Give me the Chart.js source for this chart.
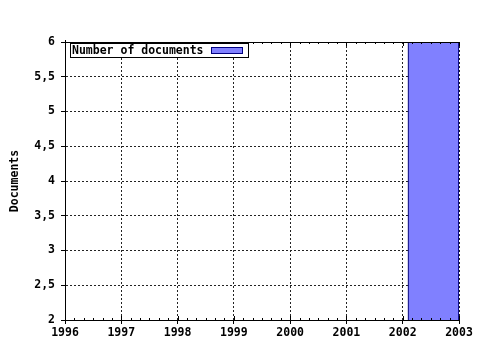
<!DOCTYPE html>
<html><head><meta charset="utf-8">
<script src="https://cdn.jsdelivr.net/npm/chart.js@4"></script>
<style>html,body{margin:0;padding:0;background:#fff}#w{width:480px;height:350px}</style>
</head><body><div id="w"><canvas id="c" width="480" height="350"></canvas></div>
<script>
const seriesLabel = "Number of documents";
const barStartYear = [2002.1];
const barEndYear = [2003];
const documents = [6];
const xMin = 1996, xMax = 2003;
const yMin = 2, yMax = 6;
const yTitle = "Documents";

const FONT = "'DejaVu Sans Mono', monospace";
const pts = [];
for (let i = 0; i < documents.length; i++) {
  pts.push({x: barStartYear[i], y: yMin}, {x: barStartYear[i], y: documents[i]},
           {x: barEndYear[i], y: documents[i]}, {x: barEndYear[i], y: yMin});
}

const framePlugin = {
  id: 'frame',
  afterDatasetsDraw(chart) {
    const {ctx, chartArea: a, scales: {x}} = chart;
    ctx.save();
    ctx.strokeStyle = '#000'; ctx.lineWidth = 1;
    ctx.setLineDash([]);
    ctx.beginPath();
    ctx.moveTo(a.left, a.top + 0.5); ctx.lineTo(a.right, a.top + 0.5);
    ctx.moveTo(a.left + 0.5, a.top - 2); ctx.lineTo(a.left + 0.5, a.bottom);
    ctx.moveTo(a.left, a.bottom + 0.5); ctx.lineTo(a.right, a.bottom + 0.5);
    for (let v = xMin; v <= xMax; v += 1) {
      const px = Math.round(x.getPixelForValue(v)) + 0.5;
      ctx.moveTo(px, a.top); ctx.lineTo(px, a.top + 4);
      ctx.moveTo(px, a.bottom); ctx.lineTo(px, a.bottom - 4);
    }
    for (let v = xMin; v < xMax; v += 1/6) {
      const px = Math.round(x.getPixelForValue(v)) + 0.5;
      ctx.moveTo(px, a.top); ctx.lineTo(px, a.top + 2);
      ctx.moveTo(px, a.bottom); ctx.lineTo(px, a.bottom - 2);
    }
    ctx.stroke();
    // legend
    const ds = chart.data.datasets[0];
    ctx.fillStyle = '#fff';
    ctx.fillRect(71, 43, 177, 14);
    ctx.strokeRect(70.5, 43.5, 178, 14);
    ctx.fillStyle = '#000';
    ctx.font = "bold 11.5px " + FONT;
    ctx.textBaseline = 'middle';
    ctx.fillText(ds.label, 72, 51);
    ctx.fillStyle = ds.backgroundColor;
    ctx.fillRect(211, 47, 32, 7);
    ctx.strokeStyle = ds.borderColor;
    ctx.strokeRect(211.5, 47.5, 31, 6);
    ctx.restore();
  }
};

new Chart(document.getElementById('c'), {
  type: 'scatter',
  data: {datasets: [{
    label: seriesLabel,
    data: pts,
    showLine: true,
    fill: 'start',
    backgroundColor: '#8080ff',
    borderColor: '#000080',
    borderWidth: 1,
    pointRadius: 0,
    tension: 0
  }]},
  options: {
    responsive: false,
    animation: false,
    layout: {padding: {left: 0, right: 21, top: 42, bottom: 0}},
    plugins: {legend: {display: false}, tooltip: {enabled: false}},
    scales: {
      x: {
        type: 'linear', min: xMin, max: xMax,
        afterFit(s) { s.height = 30; },
        ticks: {stepSize: 1, color: '#000', font: {family: FONT, size: 11.5, weight: 'bold'},
                padding: 2, maxRotation: 0, callback: v => String(v)},
        grid: {color: '#222', lineWidth: 1, tickLength: 4, tickColor: '#000', tickBorderDash: [], drawTicks: true},
        border: {display: true, color: '#000', dash: [2, 2]}
      },
      y: {
        min: yMin, max: yMax,
        afterFit(s) { s.width = 65; },
        ticks: {stepSize: 0.5, color: '#000', font: {family: FONT, size: 11.5, weight: 'bold'},
                padding: 6, callback: v => String(v).replace('.', ',')},
        grid: {color: '#222', lineWidth: 1, tickLength: 4, tickColor: '#000', tickBorderDash: []},
        border: {display: true, color: '#000', dash: [2, 2]},
        title: {display: true, text: yTitle, color: '#000', font: {family: FONT, size: 11.5, weight: 'bold'}, padding: {top: 8, bottom: 0}}
      }
    }
  },
  plugins: [framePlugin]
});
</script>
</body></html>
